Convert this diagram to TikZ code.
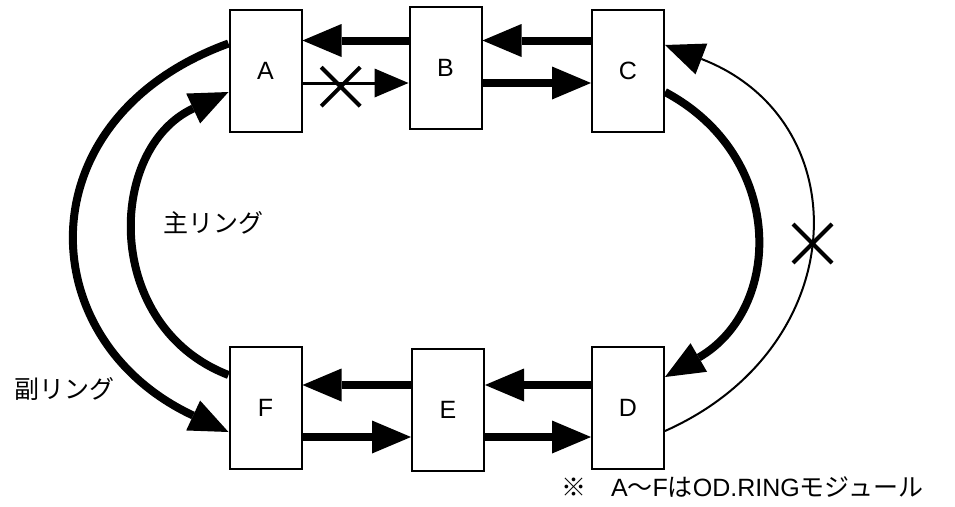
\documentclass[tikz,border=0pt]{standalone}
\usepackage{fontspec}
\setmainfont{Liberation Sans}
\newfontfamily\jpfont{Noto Sans CJK JP}
\usetikzlibrary{arrows.meta,shapes.misc}

\begin{document}
\begin{tikzpicture}[x=1pt,y=1pt,line width=2pt,
  font=\fontsize{25}{30}\selectfont,
  mod/.style={draw,line width=2pt,minimum width=72pt,minimum height=122pt,inner sep=0pt},
  main/.style={-{Triangle[length=39pt,width=33pt,line width=0pt]},line width=8pt},
  sub/.style={-{Triangle[length=39pt,width=33pt,line width=0pt]},line width=2pt},
  brk/.style={draw,cross out,line width=4pt,minimum size=35pt,inner sep=0pt}]
\useasboundingbox (0,0) rectangle (955,-506);
% modules
\node[mod] (A) at (265.5,-70.5) {A};
\node[mod] (B) at (445.5,-67.5) {B};
\node[mod] (C) at (628,-70.5) {C};
\node[mod] (F) at (265.5,-407.5) {F};
\node[mod] (E) at (448,-410) {E};
\node[mod] (D) at (628,-407.5) {D};
% arrow levels
\coordinate (t1) at (0,-40.5);
\coordinate (t2) at (0,-83);
\coordinate (b1) at (0,-385);
\coordinate (b2) at (0,-437);
% upper line
\draw[main] (B.west |- t1) -- (A.east |- t1);
\draw[main] (C.west |- t1) -- (B.east |- t1);
\draw[sub,line width=3pt,-{Triangle[length=34pt,width=29pt,line width=0pt]}] (A.east |- t2) -- (B.west |- t2);
\draw[main] (B.east |- t2) -- (C.west |- t2);
% lower line
\draw[main] (E.west |- b1) -- (F.east |- b1);
\draw[main] (D.west |- b1) -- (E.east |- b1);
\draw[main] (F.east |- b2) -- (E.west |- b2);
\draw[main] (E.east |- b2) -- (D.west |- b2);
% main ring arcs
\draw[main] ([yshift=32.5pt]F.west) to[out=159,in=205,looseness=1.22] ([yshift=-21.5pt]A.west);
\draw[main] ([yshift=-21.5pt]C.east) to[out=-28,in=30,looseness=1.23] ([yshift=30.5pt]D.east);
% sub ring arcs
\draw[main] ([yshift=27pt]A.west) to[out=200,in=155,looseness=1.44] ([yshift=-24.5pt]F.west);
\draw[sub] ([yshift=-23.5pt]D.east) to[out=24,in=-21,looseness=1.38] ([yshift=25.5pt]C.east);
% breaks
\node[brk] (x1) at (340.7,-86.7) {};
\node[brk] (x2) at (812.5,-243.5) {};
% labels
\node (lmain) at (213.3,-222.5) {\jpfont 主リング};
\node (lsub) at (64.5,-388.7) {\jpfont 副リング};
\node[anchor=base west,inner sep=0pt] (note) at (560,-496) {{\jpfont ※　}A{\jpfont ～}F{\jpfont は}OD.RING{\jpfont モジュール}};
\end{tikzpicture}
\end{document}
